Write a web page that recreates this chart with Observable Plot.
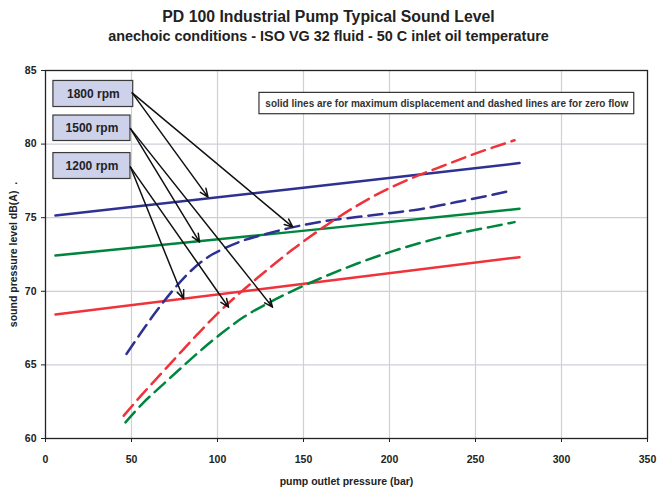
<!DOCTYPE html>
<html>
<head>
<meta charset="utf-8">
<script src="https://cdn.jsdelivr.net/npm/d3@7"></script>
<script src="https://cdn.jsdelivr.net/npm/@observablehq/plot@0.6"></script>
<style>
  html, body { margin: 0; padding: 0; background: #fff; }
  body { width: 657px; height: 491px; overflow: hidden; font-family: "Liberation Sans", Arial, sans-serif; }
  #head { position: relative; height: 55px; width: 657px; color: #222; font-weight: bold; }
  #head div { position: absolute; left: 0; width: 657px; text-align: center; line-height: 1; white-space: nowrap; }
  #t1 { top: 9px; font-size: 15.8px; }
  #t2 { top: 29px; font-size: 14.4px; }
  svg text { font-family: "Liberation Sans", Arial, sans-serif; }
</style>
</head>
<body>
<div id="head">
  <div id="t1">PD 100 Industrial Pump Typical Sound Level</div>
  <div id="t2">anechoic conditions - ISO VG 32 fluid - 50 C inlet oil temperature</div>
</div>
<div id="chart"></div>
<script>
// ---- data ----
const xTicks = [0, 50, 100, 150, 200, 250, 300, 350];
const yTicks = [60, 65, 70, 75, 80, 85];

// solid lines: maximum displacement
const solidX = [5.8, 142.2, 275.6];
const solid1800 = [75.15, 76.93, 78.71];
const solid1500 = [72.43, 74.02, 75.61];
const solid1200 = [68.42, 70.39, 72.32];

// dashed lines: zero flow
const dash1800X = [47.1, 56.2, 62.9, 73.6, 84.2, 94.8, 105.5, 115.2, 128.7, 144.1, 161.5, 180.9, 200.2, 219.5, 238.9, 258.2, 268.8];
const dash1800Y = [65.75, 67.3, 68.4, 70.0, 71.35, 72.35, 73.0, 73.46, 73.91, 74.36, 74.75, 75.04, 75.31, 75.61, 76.06, 76.52, 76.79];
const dash1500X = [46.5, 57.1, 68.7, 80.3, 91.9, 103.5, 115.2, 128.7, 142.2, 161.5, 180.9, 200.2, 219.5, 238.9, 258.2, 272.7];
const dash1500Y = [61.1, 62.46, 63.71, 64.95, 66.15, 67.25, 68.25, 69.15, 69.95, 70.96, 71.87, 72.66, 73.34, 73.91, 74.36, 74.7];
const dash1200X = [45.5, 56.2, 66.8, 77.4, 88.1, 99.7, 111.3, 121.9, 132.5, 143.2, 151.9, 171.2, 190.6, 210.0, 229.3, 248.6, 272.7];
const dash1200Y = [61.55, 63.0, 64.35, 65.7, 67.05, 68.45, 69.71, 70.78, 71.8, 72.8, 73.55, 75.1, 76.45, 77.54, 78.44, 79.3, 80.26];

// annotation labels (rpm boxes) and their arrows
const rpmLabels = ["1800 rpm", "1500 rpm", "1200 rpm"];
const rpmBoxX1 = [4.6, 4.6, 4.6];
const rpmBoxX2 = [51.0, 49.4, 49.4];
const rpmBoxY1 = [84.29, 81.94, 79.39];
const rpmBoxY2 = [82.52, 80.21, 77.63];
const rpmTextX = [27.8, 27.0, 27.0];
const rpmTextY = [83.40, 81.07, 78.51];

const arrowFrom = [0, 0, 1, 1, 2, 2]; // index into rpmLabels
const arrowStartX = [50.4, 49.4, 49.4];
const arrowStartY = [83.48, 81.05, 78.44];
const arrowEndX = [94.5, 143.8, 89.6, 132.0, 80.3, 106.4];
const arrowEndY = [76.40, 74.36, 73.34, 68.92, 69.49, 68.92];

const noteText = "solid lines are for maximum displacement and dashed lines are for zero flow";
const noteBox = {x1: 124.4, x2: 342.3, y1: 83.48, y2: 82.03, tx: 233.3, ty: 82.76};

const colors = {"1800": "#2e3192", "1500": "#00853e", "1200": "#f0323a"};
const FONT = "'Liberation Sans', Arial, sans-serif";

// ---- tables built from the arrays ----
const solidData = [
  ...solidX.map((x, i) => ({x, y: solid1800[i], s: "1800"})),
  ...solidX.map((x, i) => ({x, y: solid1500[i], s: "1500"})),
  ...solidX.map((x, i) => ({x, y: solid1200[i], s: "1200"}))
];
const dashData = [
  ...dash1800X.map((x, i) => ({x, y: dash1800Y[i], s: "1800"})),
  ...dash1500X.map((x, i) => ({x, y: dash1500Y[i], s: "1500"})),
  ...dash1200X.map((x, i) => ({x, y: dash1200Y[i], s: "1200"}))
];
const boxes = rpmLabels.map((t, i) => ({t, x1: rpmBoxX1[i], x2: rpmBoxX2[i], y1: rpmBoxY1[i], y2: rpmBoxY2[i], tx: rpmTextX[i], ty: rpmTextY[i]}));
const arrows = arrowFrom.map((k, i) => ({x1: arrowStartX[k], y1: arrowStartY[k], x2: arrowEndX[i], y2: arrowEndY[i]}));

const chart = Plot.plot({
  width: 657,
  height: 436,
  marginTop: 15,
  marginBottom: 53,
  marginLeft: 45,
  marginRight: 10,
  style: {fontFamily: FONT, fontSize: "10.5px", color: "#222", background: "#fff"},
  x: {domain: [0, 350]},
  y: {domain: [60, 85]},
  color: {domain: Object.keys(colors), range: Object.values(colors)},
  marks: [
    Plot.gridX([50, 100, 150, 200, 250, 300], {stroke: "#cfcfd8", strokeOpacity: 1, strokeWidth: 1.2}),
    Plot.gridY([65, 70, 75, 80], {stroke: "#cfcfd8", strokeOpacity: 1, strokeWidth: 1.2}),
    Plot.axisX({ticks: xTicks, tickSize: 4, tickPadding: 13, fontWeight: "bold", fontSize: 10.5, fontFamily: FONT,
      label: "pump outlet pressure (bar)", labelAnchor: "center", labelOffset: 46, labelArrow: "none"}),
    Plot.axisY({ticks: yTicks, tickSize: 4, tickPadding: 5, fontWeight: "bold", fontSize: 10.5, fontFamily: FONT,
      label: "sound pressure level dB(A)  .", labelAnchor: "center", labelOffset: 36, labelArrow: "none"}),
    Plot.line(solidData, {x: "x", y: "y", z: "s", stroke: d => d.s, strokeWidth: 2.5}),
    Plot.line(dashData, {x: "x", y: "y", z: "s", stroke: d => d.s, strokeWidth: 2.5, strokeDasharray: "14,7", curve: "monotone-x"}),
    Plot.rect(boxes, {x1: "x1", x2: "x2", y1: "y1", y2: "y2", fill: "#cdd1ea", stroke: "#3a3a3a", strokeWidth: 1.2}),
    Plot.text(boxes, {x: "tx", y: "ty", text: "t", fontWeight: "bold", fontSize: 12, fontFamily: FONT, fill: "#222"}),
    Plot.arrow(arrows, {x1: "x1", y1: "y1", x2: "x2", y2: "y2", stroke: "#111", strokeWidth: 1.5, headLength: 9, headAngle: 45}),
    Plot.rect([noteBox], {x1: "x1", x2: "x2", y1: "y1", y2: "y2", fill: "#fff", stroke: "#333", strokeWidth: 1.2}),
    Plot.text([noteBox], {x: "tx", y: "ty", text: () => noteText, fontWeight: "bold", fontSize: 10, fontFamily: FONT, fill: "#333"}),
    Plot.frame({stroke: "#222", strokeWidth: 1.3})
  ]
});
document.getElementById("chart").appendChild(chart);
</script>
</body>
</html>
